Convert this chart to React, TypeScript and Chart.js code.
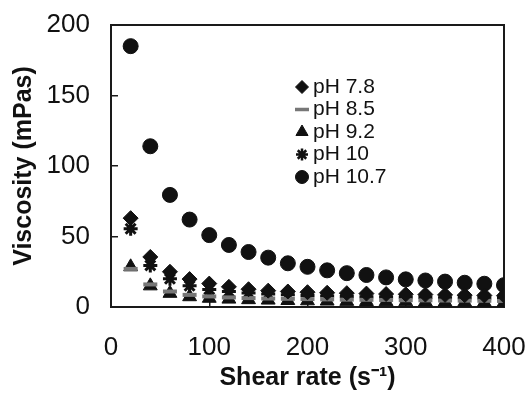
import React, { useEffect, useRef } from 'react';
import { Chart, registerables } from 'chart.js';
import { drawPoint } from 'chart.js/helpers';

Chart.register(...registerables);

// ---- data ----
const shearRates = [20, 40, 60, 80, 100, 120, 140, 160, 180, 200, 220, 240, 260, 280, 300, 320, 340, 360, 380, 400];
const ph78 = [63, 35.5, 25, 19.8, 16.6, 14.3, 12.6, 11.6, 11, 10.5, 10.1, 9.8, 9.5, 9.2, 9, 8.8, 8.6, 8.4, 8.2, 8];
const ph85 = [27, 16, 11, 8.6, 7.5, 6.8, 6.3, 6, 5.8, 5.6, 5.4, 5.2, 5.1, 5, 4.8, 4.7, 4.6, 4.5, 4.4, 4.3];
const ph92 = [28.5, 15, 9.7, 7.3, 6.2, 5.6, 5.2, 4.9, 4.6, 4.4, 4.2, 4, 3.9, 3.8, 3.7, 3.6, 3.5, 3.4, 3.3, 3.2];
const ph10 = [55.5, 29.5, 20, 15, 12.5, 11, 10, 9.2, 8.6, 8.2, 7.8, 7.5, 7.3, 7.1, 6.9, 6.7, 6.6, 6.5, 6.4, 6.3];
const ph107 = [185, 114, 79.5, 62, 51, 44, 39, 35, 31, 28.5, 26, 24, 22.7, 21, 19.6, 18.8, 18, 17.2, 16.5, 15.5];
const seriesLabels = ['pH 7.8', 'pH 8.5', 'pH 9.2', 'pH 10', 'pH 10.7'];
const xTitle = 'Shear rate (s\u207B\u00B9)';
const yTitle = 'Viscosity (mPas)';
const xMin = 0, xMax = 400, xStep = 100;
const yMin = 0, yMax = 200, yStep = 50;

const FONT = '"Liberation Sans", Arial, Helvetica, sans-serif';
const FRAME = '#1a1a1a';

const toPoints = (ys: number[]) => shearRates.map((x, i) => ({ x, y: ys[i] }));

const zeroPad = (scale: any) => {
  scale.paddingLeft = 0;
  scale.paddingRight = 0;
  scale.paddingTop = 0;
  scale.paddingBottom = 0;
};

const legendPlugin = {
  id: 'insideLegend',
  afterDatasetsDraw(chart: any) {
    const ctx = chart.ctx as CanvasRenderingContext2D;
    const { left, top } = chart.chartArea;
    const x0 = left + 191;
    const y0 = top + 62;
    const step = 22.5;
    ctx.save();
    chart.data.datasets.forEach((ds: any, i: number) => {
      const y = y0 + i * step;
      ctx.fillStyle = ds.backgroundColor;
      ctx.strokeStyle = ds.borderColor;
      ctx.lineWidth = ds.legendBorderWidth;
      drawPoint(ctx, { pointStyle: ds.pointStyle, radius: ds.legendRadius, rotation: 0, borderWidth: ds.legendBorderWidth } as any, x0, y);
      ctx.fillStyle = '#111';
      ctx.font = `21px ${FONT}`;
      ctx.textBaseline = 'middle';
      ctx.textAlign = 'left';
      ctx.fillText(ds.label, x0 + 11, y);
    });
    ctx.restore();
  },
};

export default function App() {
  const canvasRef = useRef<HTMLCanvasElement | null>(null);

  useEffect(() => {
    document.body.style.margin = '0';
    const canvas = canvasRef.current;
    if (!canvas) return;
    const black = '#111';
    const gridTicks = { display: true, drawOnChartArea: false, drawTicks: true, tickLength: -7, color: FRAME, lineWidth: 1.5 };
    const frameBorder = { display: true, color: FRAME, width: 2 };
    const chart = new Chart(canvas, {
      type: 'scatter',
      data: {
        datasets: [
          { label: seriesLabels[0], data: toPoints(ph78), pointStyle: 'rectRot', pointRadius: 7.5, backgroundColor: black, borderColor: black, borderWidth: 1, legendRadius: 6.5, legendBorderWidth: 1 } as any,
          { label: seriesLabels[1], data: toPoints(ph85), pointStyle: 'line', pointRadius: 7, backgroundColor: '#777', borderColor: '#777', borderWidth: 4, legendRadius: 7, legendBorderWidth: 3.5 } as any,
          { label: seriesLabels[2], data: toPoints(ph92), pointStyle: 'triangle', pointRadius: 8, backgroundColor: black, borderColor: black, borderWidth: 1, legendRadius: 7, legendBorderWidth: 1 } as any,
          { label: seriesLabels[3], data: toPoints(ph10), pointStyle: 'star', pointRadius: 7, backgroundColor: black, borderColor: black, borderWidth: 3, legendRadius: 6, legendBorderWidth: 2.5 } as any,
          { label: seriesLabels[4], data: toPoints(ph107), pointStyle: 'circle', pointRadius: 7.5, backgroundColor: black, borderColor: black, borderWidth: 1, legendRadius: 6.5, legendBorderWidth: 1 } as any,
        ],
      },
      options: {
        animation: false,
        responsive: false,
        devicePixelRatio: 1,
        layout: { padding: { left: 0, top: 25, right: 24, bottom: 0 } },
        plugins: { legend: { display: false }, tooltip: { enabled: false } },
        scales: {
          x: {
            type: 'linear',
            position: 'bottom',
            min: xMin,
            max: xMax,
            border: frameBorder,
            grid: gridTicks,
            ticks: { stepSize: xStep, color: black, font: { family: FONT, size: 26 }, padding: 32, maxRotation: 0 },
            title: { display: true, text: xTitle, color: black, font: { family: FONT, size: 25, weight: 'bold' }, padding: { top: 0, bottom: 4 } },
            afterFit: (scale: any) => { scale.height = 90; zeroPad(scale); },
          },
          y: {
            type: 'linear',
            position: 'left',
            min: yMin,
            max: yMax,
            border: frameBorder,
            grid: gridTicks,
            ticks: { stepSize: yStep, color: black, font: { family: FONT, size: 26 }, padding: 28 },
            title: { display: true, text: yTitle, color: black, font: { family: FONT, size: 25, weight: 'bold' }, padding: { top: 9, bottom: 0 } },
            afterFit: (scale: any) => { scale.width = 111; zeroPad(scale); },
          },
          xTop: {
            type: 'linear',
            position: 'top',
            min: xMin,
            max: xMax,
            border: frameBorder,
            grid: { display: false, drawTicks: false },
            ticks: { display: false },
            afterFit: (scale: any) => { scale.height = 0; zeroPad(scale); },
          },
          yRight: {
            type: 'linear',
            position: 'right',
            min: yMin,
            max: yMax,
            border: frameBorder,
            grid: { display: false, drawTicks: false },
            ticks: { display: false },
            afterFit: (scale: any) => { scale.width = 0; zeroPad(scale); },
          },
        },
      } as any,
      plugins: [legendPlugin],
    });
    return () => chart.destroy();
  }, []);

  return (
    <div style={{ width: 528, height: 397, background: '#fff' }}>
      <canvas ref={canvasRef} width={528} height={397} style={{ display: 'block', width: 528, height: 397 }} />
    </div>
  );
}
